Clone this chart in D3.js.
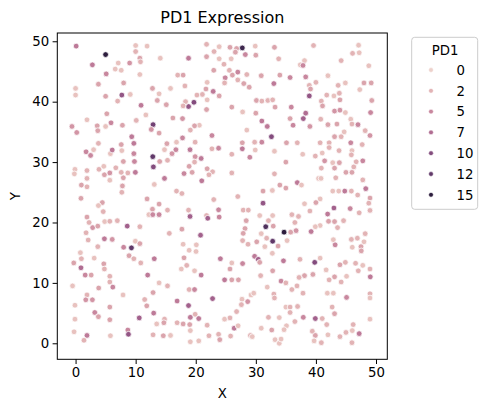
<!DOCTYPE html>
<html>
<head>
<meta charset="utf-8">
<script src="https://cdn.jsdelivr.net/npm/d3@7"></script>
<style>
  body { margin: 0; background: #fff; }
  svg { font-family: "DejaVu Sans", sans-serif; }
</style>
</head>
<body>
<div id="chart"></div>
<script>
// PD1 expression per cell, x/y position
var xs = [
  0.1, 5.0, 10.0, 11.9, 10.0, 10.7, 10.8, 14.1, 2.8, 7.1, 9.0, 6.6, 7.6, 5.1, 10.7, 3.8, 8.0, 0.0, 0.0, 5.0,
  7.7, 9.1, 12.8, 13.9, 7.0, 10.9, 13.6, 15.1, 5.2, 11.7, 1.9, 10.1, 5.9, -0.6, 3.6, 5.0, 7.8, 12.9, 0.2, 3.7,
  12.6, 13.9, 9.35,
  21.8, 23.9, 25.7, 26.8, 27.75, 29.9, 33.1, 23.05, 26.6, 18.8, 21.8, 28.25, 30.0, 23.9, 25.9, 24.7, 23.0, 25.6, 27.0, 26.1,
  28.5, 30.9, 17.0, 17.9, 24.9, 27.0, 21.9, 24.8, 28.0, 33.0, 18.2, 15.8, 28.9, 21.7, 22.9, 21.1, 20.2, 23.9, 21.9, 19.7,
  18.8, 18.3, 17.9, 21.8, 26.0, 27.8, 30.1, 31.0, 32.0, 32.8, 33.2, 30.0, 16.2, 17.8, 20.6, 19.8, 31.0, 19.1, 22.7, 28.5,
  31.9, 17.8, 32.6,
  39.6, 47.1, 46.1, 47.2, 33.8, 38.1, 37.4, 37.85, 44.2, 48.8, 34.0, 35.7, 38.3, 42.0, 40.0, 38.9, 39.1, 43.7, 44.9, 48.0,
  49.2, 47.3, 38.9, 41.8, 43.0, 43.9, 44.0, 40.9, 49.3, 41.1, 35.9, 43.1, 44.0, 44.9, 49.1, 38.3, 37.9, 35.7, 40.8, 45.8,
  36.2, 39.0, 42.0, 43.5, 46.0, 47.0, 44.7, 48.2, 43.1, 44.2, 49.0,
  3.8, 7.6, 9.7, 1.75, 2.5, 3.0, 5.8, 6.1, 7.7, 9.7, 12.85, 14.8, 9.8, 7.95, 14.0, 15.3, 12.95, -0.1, -0.2, 1.9,
  3.9, 4.7, 4.8, 5.7, 6.7, 7.6, 8.7, 9.95, 7.95, 5.7, 1.9, 14.8, 0.97, 1.9, 7.8, 13.1, 7.7, 0.9, 11.9, 4.45,
  3.8, 13.9, 12.8, 15.3, 4.6, 12.2, 12.85, 13.9, 1.9, 2.25, 4.85, 5.7, 6.95, 2.85, 3.7, 8.6, 10.7, 1.75, 15.6, 2.1,
  4.8, 6.1, 9.95, 3.7, 8.0, 9.3, 10.7,
  15.2, 16.8, 19.9, 16.05, 16.7, 19.05, 19.9, 20.9, 19.8, 18.9, 22.7, 23.8, 26.0, 27.75, 27.75, 29.8, 31.0, 29.9, 29.0, 33.1,
  18.05, 19.4, 21.9, 22.8, 22.2, 21.0, 26.0, 33.1, 16.8, 17.7, 23.0, 27.0, 31.2, 32.75, 31.2, 18.8, 19.05, 21.8, 22.0, 23.8,
  23.9, 27.9, 28.75, 30.65, 32.8, 32.1, 28.4, 31.65, 32.9, 28.2, 17.7, 20.8, 27.9, 30.9, 31.8, 32.8, 27.8, 28.7, 30.15, 17.9,
  20.1, 31.5,
  35.1, 36.9, 40.7, 42.2, 45.8, 47.7, 37.8, 39.9, 41.05, 42.2, 43.85, 46.0, 45.9, 35.0, 41.45, 42.8, 43.9, 46.7, 47.8, 40.9,
  43.1, 46.3, 45.0, 46.0, 40.45, 40.85, 43.3, 47.8, 34.0, 35.0, 36.9, 37.6, 48.3, 42.8, 43.8, 44.8, 45.9, 46.95, 49.0, 48.8,
  40.7, 40.0, 38.1, 43.0, 45.7, 49.0, 39.0, 36.0, 37.1, 41.95, 47.2, 36.5, 42.1, 43.1, 44.6, 40.7, 39.9, 43.6, 34.7, 35.8,
  36.7, 39.2, 35.2, 42.9, 43.2, 45.9, 46.9, 48.2, 48.0, 47.5, 33.7,
  0.8, 0.97, 3.1, 8.9, 9.7, 10.85, 13.1, -0.3, 0.9, 4.7, 4.8, 1.6, 2.6, 5.7, 12.0, 5.7, 6.2, 3.85, -0.5, 13.9,
  15.3, 1.9, 12.9, 1.7, 2.8, 7.9, 11.5, 11.85, -0.1, 5.7, 3.2, 3.8, 5.7, 10.6, 13.0, 14.8, 14.7, 13.5, -0.1, -0.25,
  1.9, 1.4, 5.8, 8.7, 8.8, 12.9, 14.6,
  18.9, 20.05, 18.05, 17.6, 18.5, 24.1, 26.0, 27.8, 25.7, 19.8, 20.9, 29.8, 30.4, 30.65, 32.75, 32.8, 24.8, 26.0, 27.1, 30.8,
  18.9, 19.8, 22.8, 27.7, 27.6, 28.65, 29.2, 29.65, 31.9, 33.0, 33.1, 16.9, 18.8, 26.8, 19.9, 19.1, 20.5, 24.8, 25.7, 32.1,
  16.9, 17.9, 19.0, 21.9, 26.4, 27.05, 30.9, 32.65,
  46.05, 47.55, 34.6, 37.35, 39.8, 40.7, 44.9, 44.0, 46.6, 47.8, 49.0, 49.05, 47.05, 41.7, 39.5, 38.1, 37.2, 43.1, 42.2, 45.1,
  44.2, 34.2, 35.0, 36.85, 36.0, 37.85, 41.9, 42.9, 45.1, 49.0, 49.0, 35.0, 35.7, 36.95, 35.7, 42.7, 43.1, 37.9, 39.9, 41.05,
  33.9, 36.5, 35.1, 34.7, 41.8, 46.2, 49.0,
  15.8, 19.1, 19.1, 20.5, 22.2, 23.8, 24.0, 25.8, 29.1, 29.4, 33.2, 33.9, 34.2, 39.4, 39.9, 39.7, 40.9, 42.0, 44.0, 45.0,
  46.0, 46.05, 47.2
];
var ys = [
  49.2, 47.8, 49.3, 49.2, 48.3, 47.2, 46.6, 47.2, 46.1, 46.4, 46.4, 45.4, 45.2, 44.6, 44.5, 42.9, 43.1, 42.2, 41.1, 40.9,
  41.1, 41.2, 42.2, 41.3, 40.1, 39.4, 40.2, 39.5, 38.0, 37.8, 37.0, 36.9, 36.5, 35.9, 36.0, 35.9, 36.1, 36.2, 34.9, 35.2,
  35.4, 34.8, 34.2,
  49.5, 49.1, 49.0, 48.8, 48.9, 49.2, 49.0, 48.3, 48.2, 47.2, 47.45, 47.8, 47.7, 47.1, 47.1, 46.2, 45.2, 45.2, 44.9, 44.4,
  44.5, 44.3, 44.4, 44.4, 43.95, 43.6, 43.2, 43.1, 43.0, 43.0, 42.6, 42.2, 42.4, 42.1, 41.7, 41.2, 41.1, 40.95, 40.3, 39.9,
  39.2, 40.0, 39.3, 38.7, 39.1, 38.3, 40.2, 40.1, 40.2, 40.3, 39.1, 38.1, 37.3, 37.2, 36.1, 36.0, 36.8, 35.3, 34.4, 35.3,
  35.9, 34.0, 34.2,
  49.3, 49.35, 48.0, 48.1, 47.1, 46.8, 46.1, 46.0, 46.8, 45.95, 44.4, 44.0, 44.1, 44.3, 43.2, 42.7, 42.1, 42.7, 43.1, 43.1,
  43.1, 42.0, 40.95, 41.1, 40.95, 41.4, 40.3, 40.1, 40.2, 39.3, 39.1, 38.45, 38.6, 38.2, 38.2, 38.1, 37.2, 37.2, 37.1, 37.1,
  36.1, 35.9, 36.2, 36.3, 36.3, 36.2, 35.0, 35.2, 34.2, 34.2, 34.4,
  33.1, 32.9, 33.1, 31.7, 31.1, 32.05, 31.4, 32.0, 31.9, 31.4, 30.9, 32.05, 30.1, 30.1, 30.1, 30.3, 29.2, 28.8, 28.05, 28.6,
  28.8, 29.3, 27.9, 28.2, 29.05, 28.3, 28.2, 28.3, 27.4, 27.0, 27.3, 27.3, 26.2, 25.9, 26.05, 26.3, 25.0, 24.0, 23.9, 23.3,
  22.8, 23.05, 22.2, 22.05, 21.8, 21.3, 21.3, 21.3, 20.9, 20.0, 20.15, 20.2, 20.3, 19.15, 19.4, 19.4, 19.3, 18.3, 18.2, 17.1,
  17.3, 17.2, 16.9, 16.0, 15.9, 15.8, 16.5,
  33.05, 33.3, 33.3, 31.4, 32.05, 32.05, 30.9, 30.6, 30.0, 29.3, 32.2, 32.3, 31.3, 33.2, 32.2, 33.3, 33.3, 32.0, 30.8, 31.8,
  28.1, 28.3, 28.9, 28.4, 27.9, 26.9, 28.2, 28.05, 25.2, 24.8, 23.8, 24.3, 25.2, 25.3, 23.2, 22.05, 21.0, 21.15, 20.7, 22.1,
  20.9, 22.05, 22.05, 21.15, 21.15, 20.3, 20.3, 19.3, 19.4, 19.0, 18.9, 17.9, 18.2, 18.15, 17.4, 16.9, 17.0, 16.4, 16.8, 16.4,
  16.3, 16.0,
  33.2, 33.2, 33.2, 33.2, 33.2, 32.9, 31.3, 31.0, 31.5, 32.4, 31.9, 31.9, 31.2, 30.0, 30.2, 29.9, 29.9, 30.05, 30.2, 29.0,
  29.0, 29.2, 28.3, 28.3, 27.3, 27.3, 27.4, 27.05, 26.2, 25.7, 26.6, 26.2, 25.6, 25.2, 25.2, 25.2, 25.2, 24.55, 24.05, 23.2,
  23.9, 23.3, 23.1, 22.4, 22.3, 22.0, 21.9, 21.3, 21.0, 21.4, 21.6, 20.0, 20.2, 20.15, 20.3, 19.5, 19.3, 19.15, 18.4, 18.4,
  18.65, 18.5, 17.0, 17.15, 16.3, 17.2, 17.4, 18.15, 16.8, 16.0, 16.1,
  15.0, 14.0, 14.1, 14.5, 14.0, 13.3, 14.0, 13.3, 12.5, 13.15, 12.3, 11.3, 11.3, 11.1, 11.3, 10.15, 9.3, 9.15, 9.5, 10.0,
  9.5, 8.0, 8.4, 7.2, 7.2, 8.0, 7.25, 6.2, 6.3, 6.0, 5.1, 4.4, 3.9, 4.2, 5.0, 4.0, 3.4, 3.2, 4.0, 1.9,
  1.3, 0.5, 1.25, 2.2, 1.5, 1.4, 1.25,
  15.4, 15.2, 14.15, 12.3, 12.9, 14.0, 13.3, 13.2, 12.3, 12.0, 11.3, 14.4, 13.9, 13.4, 14.9, 12.0, 10.5, 10.5, 10.5, 11.2,
  8.9, 8.9, 7.4, 7.3, 6.4, 6.9, 8.0, 8.3, 9.3, 8.15, 7.5, 7.0, 6.25, 5.25, 4.8, 4.3, 4.1, 4.0, 4.2, 4.3,
  3.4, 3.2, 3.1, 3.0, 2.5, 2.9, 2.5, 2.2,
  15.9, 15.3, 13.65, 13.9, 13.4, 14.1, 13.4, 13.0, 13.25, 12.9, 12.3, 11.0, 12.0, 12.15, 11.4, 11.2, 10.9, 11.0, 10.5, 11.1,
  10.15, 10.3, 10.0, 9.5, 8.9, 8.3, 8.3, 8.3, 7.6, 8.2, 7.5, 6.0, 6.0, 6.1, 5.1, 6.0, 4.9, 4.3, 4.1, 4.1,
  4.25, 3.6, 2.9, 2.25, 3.1, 3.1, 4.0,
  1.3, 2.1, 0.25, 0.4, 1.25, 1.5, 0.6, 1.2, 1.3, 1.1, 0.6, 0.0, 0.7, 2.0, 1.3, 0.4, 0.1, 1.4, 1.1, 1.8,
  0.1, 2.1, 1.6
];
var pd1 = [
  6, 15, 1, 1, 2, 3, 2, 1, 6, 1, 4, 1, 1, 5, 1, 3, 3, 1, 1, 3,
  9, 1, 3, 1, 2, 6, 3, 3, 3, 1, 1, 2, 5, 4, 3, 1, 3, 11, 4, 3,
  4, 3, 6,
  2, 1, 3, 3, 14, 1, 3, 2, 3, 6, 3, 5, 3, 1, 1, 2, 3, 2, 5, 3,
  2, 3, 2, 3, 5, 2, 1, 2, 3, 6, 2, 1, 3, 3, 6, 2, 2, 3, 1, 10,
  9, 2, 2, 3, 3, 1, 3, 2, 2, 2, 3, 3, 3, 4, 1, 3, 6, 2, 5, 1,
  6, 5, 10,
  2, 1, 2, 1, 2, 1, 1, 5, 2, 1, 3, 5, 5, 1, 2, 2, 3, 2, 1, 3,
  3, 1, 9, 2, 1, 2, 3, 2, 3, 3, 5, 4, 4, 1, 5, 7, 8, 3, 2, 1,
  5, 4, 3, 3, 2, 5, 1, 2, 3, 2, 4,
  2, 3, 6, 5, 5, 1, 1, 6, 1, 5, 12, 1, 5, 3, 3, 2, 10, 1, 1, 2,
  2, 1, 3, 4, 2, 2, 2, 6, 3, 1, 2, 6, 3, 2, 3, 1, 2, 3, 3, 3,
  1, 3, 3, 2, 2, 1, 5, 5, 3, 2, 1, 2, 2, 4, 3, 8, 2, 2, 2, 2,
  6, 4, 1, 2, 5, 12, 3,
  3, 1, 2, 4, 5, 6, 4, 6, 2, 3, 2, 5, 2, 3, 6, 2, 5, 1, 5, 1,
  5, 3, 3, 2, 2, 6, 2, 2, 2, 2, 2, 2, 3, 1, 9, 2, 8, 2, 8, 5,
  5, 2, 2, 1, 1, 2, 3, 13, 3, 3, 3, 8, 3, 1, 2, 12, 2, 2, 3, 1,
  1, 1,
  3, 2, 2, 2, 5, 2, 1, 2, 1, 2, 2, 1, 2, 3, 4, 1, 3, 2, 5, 2,
  3, 2, 3, 3, 1, 1, 2, 2, 3, 3, 6, 1, 6, 1, 1, 6, 2, 2, 3, 2,
  1, 3, 1, 8, 5, 2, 2, 2, 2, 6, 2, 2, 3, 3, 2, 1, 1, 2, 15, 3,
  4, 6, 1, 1, 5, 2, 2, 2, 1, 3, 3,
  1, 2, 1, 3, 2, 2, 6, 3, 7, 3, 2, 5, 3, 2, 6, 2, 5, 3, 1, 1,
  2, 2, 3, 4, 4, 1, 2, 3, 1, 3, 5, 3, 3, 8, 6, 2, 3, 1, 1, 1,
  6, 2, 1, 5, 9, 2, 3,
  1, 1, 3, 1, 2, 6, 1, 5, 3, 1, 6, 6, 8, 3, 1, 3, 6, 3, 3, 2,
  2, 5, 8, 1, 2, 4, 1, 1, 1, 2, 2, 6, 8, 2, 2, 6, 6, 1, 2, 2,
  2, 3, 3, 2, 6, 1, 1, 3,
  1, 3, 6, 2, 10, 1, 2, 3, 2, 1, 2, 6, 2, 1, 3, 3, 2, 3, 2, 1,
  2, 5, 2, 2, 2, 2, 1, 1, 5, 2, 1, 1, 2, 2, 2, 2, 3, 5, 8, 2,
  1, 2, 1, 1, 2, 2, 1,
  1, 1, 1, 1, 2, 2, 3, 2, 2, 1, 1, 1, 1, 2, 3, 1, 2, 1, 2, 2,
  2, 1, 6
];
var legendValues = [0, 2, 5, 7, 10, 12, 15];
var xTicks = [0, 10, 20, 30, 40, 50];
var yTicks = [0, 10, 20, 30, 40, 50];

var data = xs.map(function(x, i) { return { x: x, y: ys[i], v: pd1[i] }; });

// seaborn default cubehelix (start 0, rot .4, hue .8, light .85, dark .15)
function cubehelixColor(t) {
    var x = 0.85 + (0.15 - 0.85) * t;
    var a = 0.8 * x * (1 - x) / 2;
    var phi = 2 * Math.PI * (0.4 * x);
    var c = Math.cos(phi), s = Math.sin(phi);
    var r = x + a * (-0.14861 * c + 1.78277 * s);
    var g = x + a * (-0.29227 * c - 0.90649 * s);
    var b = x + a * (1.97294 * c);
    function clip(v) { return Math.round(255 * Math.max(0, Math.min(1, v))); }
    return d3.rgb(clip(r), clip(g), clip(b)).formatHex();
}
var color = d3.scaleSequential(cubehelixColor).domain([0, 15]);

var width = 488, height = 412;
var plotLeft = 57.3, plotRight = 387.3, plotTop = 33, plotBottom = 359.3;

var xScale = d3.scaleLinear().domain([-3.04, 51.88]).range([plotLeft, plotRight]);
var yScale = d3.scaleLinear().domain([-2.65, 51.37]).range([plotBottom, plotTop]);

var svg = d3.select("#chart").append("svg")
    .attr("width", width)
    .attr("height", height);

svg.append("text")
    .attr("x", (plotLeft + plotRight) / 2)
    .attr("y", 22.5)
    .attr("text-anchor", "middle")
    .style("font-size", "16px")
    .text("PD1 Expression");

// points
svg.append("g").selectAll("circle")
    .data(data)
    .enter()
    .append("circle")
    .attr("cx", function(d) { return xScale(d.x); })
    .attr("cy", function(d) { return yScale(d.y); })
    .attr("r", 2.85)
    .attr("fill", function(d) { return color(d.v); })
    .attr("stroke", "#fff")
    .attr("stroke-width", 0.75);

// axes
var xAxis = svg.append("g")
    .attr("transform", "translate(0," + plotBottom + ")")
    .call(d3.axisBottom(xScale).tickValues(xTicks).tickSize(4.7).tickPadding(3.5));
var yAxis = svg.append("g")
    .attr("transform", "translate(" + plotLeft + ",0)")
    .call(d3.axisLeft(yScale).tickValues(yTicks).tickSize(4.7).tickPadding(3.5));
[xAxis, yAxis].forEach(function(g) {
    g.select(".domain").remove();
    g.selectAll("text").style("font-size", "13.3px").attr("fill", "#000")
        .style("font-family", "DejaVu Sans, sans-serif");
    g.selectAll("line").attr("stroke", "#000").attr("stroke-width", 1);
});

svg.append("rect")
    .attr("x", plotLeft).attr("y", plotTop)
    .attr("width", plotRight - plotLeft).attr("height", plotBottom - plotTop)
    .attr("fill", "none").attr("stroke", "#000").attr("stroke-width", 1);

svg.append("text")
    .attr("x", (plotLeft + plotRight) / 2)
    .attr("y", 398)
    .attr("text-anchor", "middle")
    .style("font-size", "13.3px")
    .text("X");

svg.append("text")
    .attr("transform", "translate(20," + ((plotTop + plotBottom) / 2) + ") rotate(-90)")
    .attr("text-anchor", "middle")
    .style("font-size", "13.3px")
    .text("Y");

// legend
var lg = svg.append("g");
lg.append("rect")
    .attr("x", 411.7).attr("y", 37.3)
    .attr("width", 66).attr("height", 172)
    .attr("rx", 3)
    .attr("fill", "#fff").attr("fill-opacity", 0.8)
    .attr("stroke", "#cccccc").attr("stroke-width", 1);
lg.append("text")
    .attr("x", 445).attr("y", 54.5)
    .attr("text-anchor", "middle")
    .style("font-size", "13.3px")
    .text("PD1");
var items = lg.selectAll("g.item")
    .data(legendValues)
    .enter()
    .append("g")
    .attr("transform", function(d, i) { return "translate(0," + (70 + i * 20.8) + ")"; });
items.append("circle")
    .attr("cx", 431).attr("cy", 0)
    .attr("r", 2.4)
    .attr("fill", function(d) { return color(d); })
    .attr("stroke", "#fff").attr("stroke-width", 0.6);
items.append("text")
    .attr("x", 456.5).attr("y", 4.8)
    .style("font-size", "13.3px")
    .text(function(d) { return d; });
</script>
</body>
</html>
